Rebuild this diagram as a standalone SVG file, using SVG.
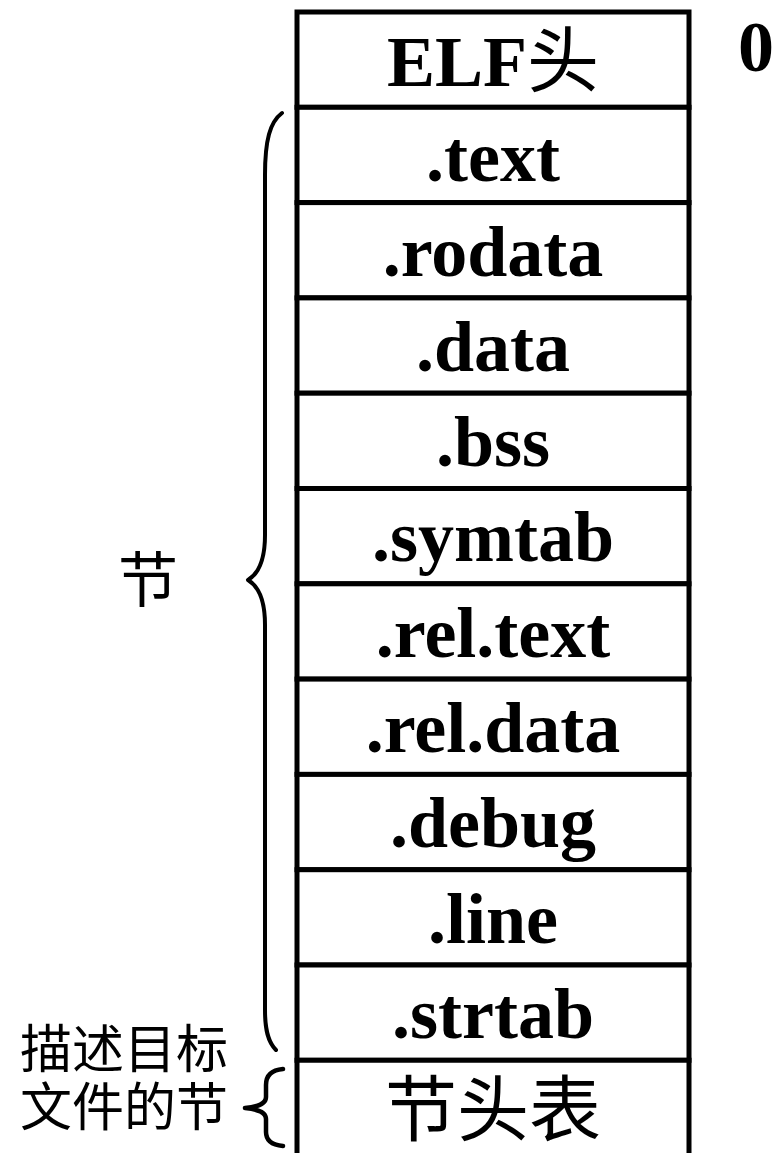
<svg xmlns="http://www.w3.org/2000/svg" width="774" height="1153" viewBox="0 0 774 1153">
<style>
.cell{fill:#fff;stroke:#000;stroke-width:5}
.lbl{font-family:"Liberation Serif","Noto Sans CJK SC",serif;font-weight:bold;font-size:72px;text-anchor:middle;fill:#000}
.cjk{font-family:"Liberation Serif","Noto Sans CJK SC",serif;font-size:72px;text-anchor:middle;fill:#000}
.side{font-family:"Liberation Serif","Noto Sans CJK SC",serif;font-size:52px;fill:#000}
.n{font-weight:normal}
.brace{fill:none;stroke:#000;stroke-width:4;stroke-linecap:round;stroke-linejoin:round}
</style>
<rect width="774" height="1153" fill="#fff"/>
<g id="row-elf"><rect class="cell" x="297" y="12" width="392" height="95.3"/><text class="lbl" x="493" y="86">ELF<tspan class="n">头</tspan></text></g>
<g id="row-text"><rect class="cell" x="297" y="107.3" width="392" height="95.3"/><text class="lbl" x="493" y="181">.text</text></g>
<g id="row-rodata"><rect class="cell" x="297" y="202.6" width="392" height="95.3"/><text class="lbl" x="493" y="276">.rodata</text></g>
<g id="row-data"><rect class="cell" x="297" y="297.9" width="392" height="95.3"/><text class="lbl" x="493" y="371">.data</text></g>
<g id="row-bss"><rect class="cell" x="297" y="393.2" width="392" height="95.3"/><text class="lbl" x="493" y="466">.bss</text></g>
<g id="row-symtab"><rect class="cell" x="297" y="488.5" width="392" height="95.3"/><text class="lbl" x="493" y="561">.symtab</text></g>
<g id="row-reltext"><rect class="cell" x="297" y="583.8" width="392" height="95.3"/><text class="lbl" x="493" y="657">.rel.text</text></g>
<g id="row-reldata"><rect class="cell" x="297" y="679.1" width="392" height="95.3"/><text class="lbl" x="493" y="752">.rel.data</text></g>
<g id="row-debug"><rect class="cell" x="297" y="774.4" width="392" height="95.3"/><text class="lbl" x="493" y="847">.debug</text></g>
<g id="row-line"><rect class="cell" x="297" y="869.7" width="392" height="95.3"/><text class="lbl" x="493" y="943">.line</text></g>
<g id="row-strtab"><rect class="cell" x="297" y="965" width="392" height="95.3"/><text class="lbl" x="493" y="1038">.strtab</text></g>
<g id="row-shtab"><path class="cell" d="M297,1160 V1060.3 H689 V1160"/><text class="cjk" x="493" y="1135">节头表</text></g>
<g id="offset-0"><text class="lbl" x="756" y="71">0</text></g>
<g id="label-sections"><text class="side" x="148" y="602" text-anchor="middle" style="font-size:60px">节</text></g>
<g id="label-shtab"><text class="side" x="20" y="1068">描述目标</text><text class="side" x="20" y="1126">文件的节</text></g>
<g id="connectors">
<path class="brace" d="M282,113 C270,122 265,140 265,175 V535 C265,560 258,574 248,580 C258,586 265,600 265,625 V1010 C265,1030 268,1042 276,1050"/>
<path class="brace" style="stroke-width:4.5" d="M283,1069 C272,1070 266,1075 266,1085 V1097 C266,1103 258,1107 245,1108 C258,1109 266,1113 266,1119 V1132 C266,1141 272,1145 283,1146"/>
</g>
</svg>
